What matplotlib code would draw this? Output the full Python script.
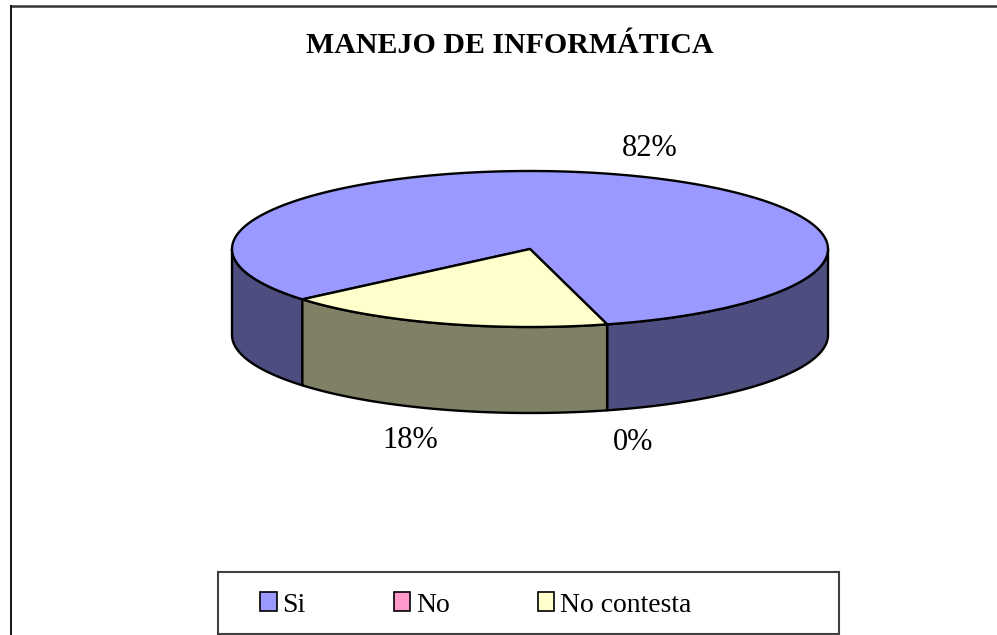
import numpy as np
import matplotlib
matplotlib.use('Agg')
import matplotlib.pyplot as plt
from matplotlib.patches import Polygon, Rectangle, Patch

plt.rcParams['font.family'] = ['Liberation Serif', 'DejaVu Serif']

# Chart data
categories = ['Si', 'No', 'No contesta']
values = [82, 0, 18]
labels = ['82%', '0%', '18%']
title = 'MANEJO DE INFORMÁTICA'

top_colors = ['#9999FF', '#FF99CC', '#FFFFCC']
side_colors = ['#4D4D80', '#806680', '#808066']

# Pie geometry (pixel space of the figure)
cx, cy = 530, 249
rx, ry = 298, 78
depth = 86
start_angle = 220.2  # slices run clockwise from here

fig = plt.figure(figsize=(9.97, 6.35), dpi=100)
ax = fig.add_axes([0, 0, 1, 1])
ax.set_xlim(0, 997)
ax.set_ylim(635, 0)
ax.axis('off')


def ell(t, dy=0):
    r = np.radians(t)
    return np.column_stack([cx + rx * np.cos(r), cy - ry * np.sin(r) + dy])


total = float(sum(values))
spans = []
a = start_angle
for v in values:
    sweep = 360.0 * v / total
    spans.append((a, a - sweep))
    a -= sweep

# side walls (only the front half, where sin(t) < 0)
for (a0, a1), col in zip(spans, side_colors):
    if a0 == a1:
        continue
    t = np.linspace(a0, a1, 400)
    extra = [k * 180.0 for k in range(int(np.floor(a1 / 180)) - 1, int(np.ceil(a0 / 180)) + 2)
             if a1 < k * 180.0 < a0]
    t = np.sort(np.concatenate([t, extra]))[::-1]
    front = np.sin(np.radians(t)) <= 1e-9
    runs = []
    cur = []
    for ti, f in zip(t, front):
        if f:
            cur.append(ti)
        elif cur:
            runs.append(cur)
            cur = []
    if cur:
        runs.append(cur)
    for run in runs:
        if len(run) < 2:
            continue
        run = np.array(run)
        pts = np.vstack([ell(run), ell(run[::-1], depth)])
        ax.add_patch(Polygon(pts, closed=True, facecolor=col, edgecolor='black',
                             linewidth=1.7, joinstyle='round'))

# top faces
for (a0, a1), col in zip(spans, top_colors):
    if a0 == a1:
        continue
    t = np.linspace(a0, a1, 400)
    pts = np.vstack([[cx, cy], ell(t)])
    ax.add_patch(Polygon(pts, closed=True, facecolor=col, edgecolor='black',
                         linewidth=1.7, joinstyle='round'))

# percentage labels
for (a0, a1), lab in zip(spans, labels):
    mid = np.radians((a0 + a1) / 2)
    x = cx + rx * 1.34 * np.cos(mid)
    y = cy - ry * 1.39 * np.sin(mid)
    if np.sin(mid) < 0:
        y += depth
    ax.text(x, y + 10, lab, ha='center', va='baseline', fontsize=22)

ax.text(510, 53, title, ha='center', va='baseline', fontsize=21.5, fontweight='bold')

# chart frame (only top and left edges visible)
ax.plot([10, 997], [5.5, 5.5], color='#333333', linewidth=1.8, solid_capstyle='butt')
ax.plot([10.5, 10.5], [5, 635], color='black', linewidth=1.3, solid_capstyle='butt')

# legend
ax.add_patch(Rectangle((218, 572), 621, 62, facecolor='white', edgecolor='#404040', linewidth=1.5))
handles = [Patch(facecolor=c, edgecolor='black', linewidth=1.2) for c in top_colors]
leg = ax.legend(handles, categories, ncol=3, frameon=False, fontsize=20,
                loc='center left', bbox_to_anchor=(259 / 997, 1 - 605 / 635),
                bbox_transform=fig.transFigure,
                handlelength=0.58, handleheight=0.66, handletextpad=0.22,
                columnspacing=3.17, borderpad=0.05, borderaxespad=0)

fig.savefig('out.png', dpi=100, facecolor='white')
